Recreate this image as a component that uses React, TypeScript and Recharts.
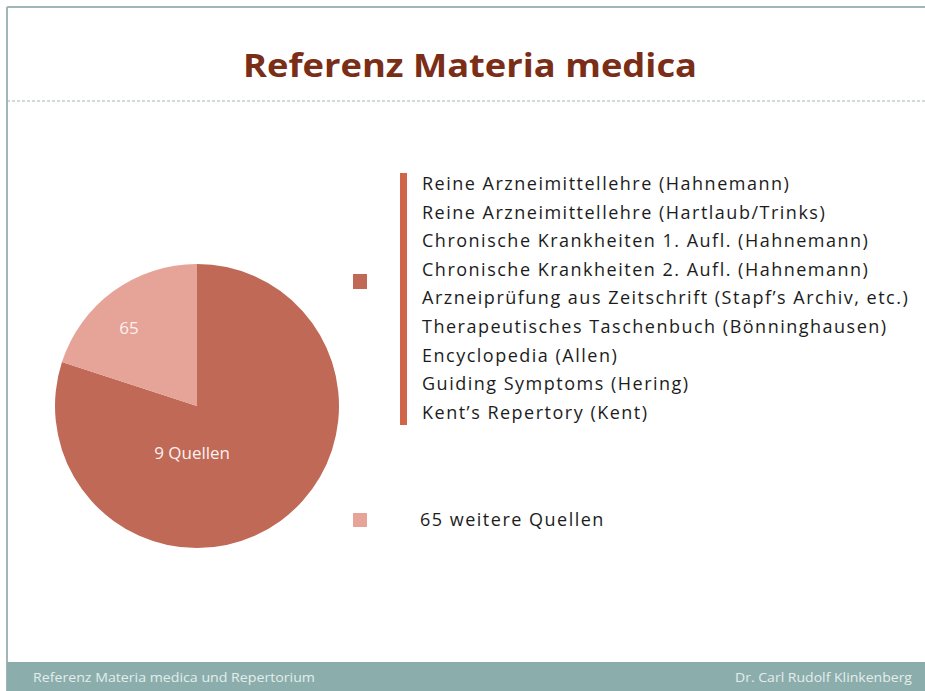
import { PieChart, Pie, Cell, Legend } from 'recharts';

const sliceNames = ['9 Quellen', '65 weitere Quellen'];
const sliceValues = [80, 20];
const sliceLabels = ['9 Quellen', '65'];
const sliceColors = ['#C06957', '#E6A398'];

const sources = [
  'Reine Arzneimittellehre (Hahnemann)',
  'Reine Arzneimittellehre (Hartlaub/Trinks)',
  'Chronische Krankheiten 1. Aufl. (Hahnemann)',
  'Chronische Krankheiten 2. Aufl. (Hahnemann)',
  'Arzneiprüfung aus Zeitschrift (Stapf’s Archiv, etc.)',
  'Therapeutisches Taschenbuch (Bönninghausen)',
  'Encyclopedia (Allen)',
  'Guiding Symptoms (Hering)',
  'Kent’s Repertory (Kent)',
];

const data = sliceNames.map((name, i) => ({ name, value: sliceValues[i], label: sliceLabels[i] }));

const FONT = '"Open Sans", "Noto Sans", sans-serif';
const RAD = Math.PI / 180;

// labels sit inside the slices; the big one is pulled down under the centre
function renderLabel(props: any) {
  const { cx, cy, midAngle, outerRadius, index } = props;
  const r = index === 0 ? outerRadius * 0.33 : outerRadius * 0.73;
  const ang = index === 0 ? -96 : midAngle + 5;
  const x = cx + r * Math.cos(-ang * RAD);
  const y = cy + r * Math.sin(-ang * RAD);
  return (
    <text x={x} y={y} fill="#FBF1EF" fontSize={17} fontFamily={FONT} textAnchor="middle" dominantBaseline="central">
      {data[index].label}
    </text>
  );
}

const textStyle = { position: 'absolute' as const, fontSize: 18, letterSpacing: 1.5, lineHeight: '22px', whiteSpace: 'nowrap' as const };

function SlideLegend({ payload }: any) {
  if (!payload) return null;
  const items = payload as any[];
  return (
    <div style={{ position: 'relative', width: 560, height: 380, fontFamily: FONT, color: '#1c1c1c' }}>
      {items.map((p) => {
        const idx = sliceNames.indexOf(p.value);
        const color = sliceColors[idx];
        if (idx === 0) {
          return (
            <div key={p.value}>
              <div style={{ position: 'absolute', left: 0, top: 101, width: 14, height: 15, background: color }} />
              <div style={{ position: 'absolute', left: 47, top: 0, width: 7, height: 252, background: '#CF6549' }} />
              {sources.map((s, j) => (
                <div key={s} style={{ ...textStyle, left: 69, top: j * 28.6 - 1 }}>
                  {s}
                </div>
              ))}
            </div>
          );
        }
        return (
          <div key={p.value}>
            <div style={{ position: 'absolute', left: 0, top: 340, width: 14, height: 14, background: color }} />
            <div style={{ ...textStyle, left: 67, top: 335 }}>{p.value}</div>
          </div>
        );
      })}
    </div>
  );
}

export default function App() {
  return (
    <div style={{ position: 'absolute', left: 0, top: 0, width: 925, height: 691, background: '#fff', overflow: 'hidden' }}>
      <svg width={925} height={691} style={{ position: 'absolute', left: 0, top: 0 }}>
        <line x1={7} y1={7} x2={925} y2={7} stroke="#9FB7B5" strokeWidth={2} />
        <line x1={7} y1={7} x2={7} y2={691} stroke="#9FB7B5" strokeWidth={2} />
        <text
          x={470}
          y={77}
          textAnchor="middle"
          fill="#7A2E17"
          fontSize={32}
          fontWeight={700}
          fontFamily={FONT}
          textLength={454}
          lengthAdjust="spacingAndGlyphs"
        >
          Referenz Materia medica
        </text>
        <line x1={7} y1={101} x2={925} y2={101} stroke="#9FB7B5" strokeWidth={1} strokeDasharray="3 2" />
        <rect x={7} y={662} width={918} height={29} fill="#8BADAC" />
        <text x={33} y={682} fill="#E4EDEC" fontSize={12} fontFamily={FONT} textLength={282} lengthAdjust="spacingAndGlyphs">
          Referenz Materia medica und  Repertorium
        </text>
        <text x={912} y={682} textAnchor="end" fill="#E4EDEC" fontSize={12} fontFamily={FONT} textLength={177} lengthAdjust="spacingAndGlyphs">
          Dr. Carl Rudolf Klinkenberg
        </text>
      </svg>
      <div style={{ position: 'absolute', left: 0, top: 0 }}>
        <PieChart width={925} height={691} margin={{ top: 0, right: 0, bottom: 0, left: 0 }}>
          <Pie
            data={data}
            dataKey="value"
            nameKey="name"
            cx={197}
            cy={406}
            outerRadius={142}
            startAngle={90}
            endAngle={-270}
            stroke="none"
            label={renderLabel}
            labelLine={false}
            isAnimationActive={false}
          >
            {data.map((d, i) => (
              <Cell key={d.name} fill={sliceColors[i]} />
            ))}
          </Pie>
          <Legend content={<SlideLegend />} wrapperStyle={{ left: 353, top: 173, width: 560 }} />
        </PieChart>
      </div>
    </div>
  );
}
